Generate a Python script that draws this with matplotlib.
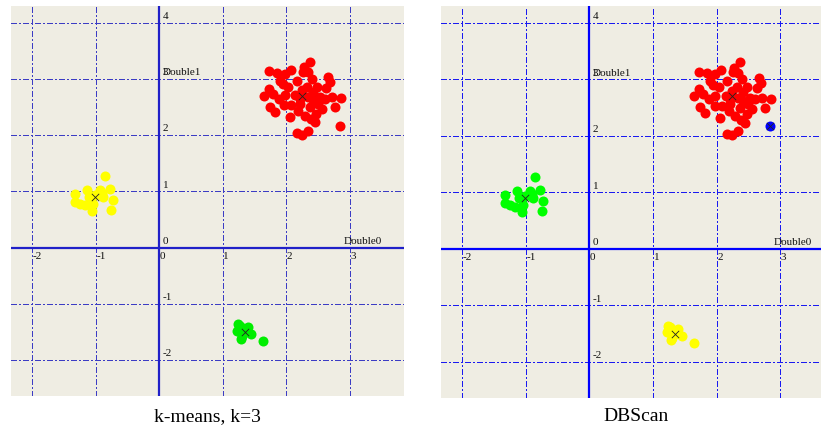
import matplotlib
matplotlib.use("Agg")
import matplotlib.pyplot as plt
import numpy as np

# upper-right cluster
top_x = [1.72, 1.85, 2.07, 2.27, 2.37, 2.34, 2.26, 1.90, 1.95, 1.72, 1.79, 1.98,
         2.32, 2.42, 2.53, 2.66, 2.69, 2.63, 2.71, 2.86, 2.76, 2.45, 2.29, 2.06,
         1.82, 1.74, 1.97, 2.08, 2.21, 2.19, 2.37, 2.42, 2.34, 2.14, 2.21, 2.16,
         2.24, 2.34, 2.24, 2.50, 2.56, 2.47, 2.39, 2.03, 2.17, 2.48, 2.61, 1.88,
         1.65, 2.40, 1.98]
top_y = [3.14, 3.11, 3.16, 3.21, 3.30, 3.12, 3.13, 2.97, 2.91, 2.83, 2.74, 2.71,
         2.86, 2.77, 2.68, 3.03, 2.94, 2.84, 2.68, 2.66, 2.50, 2.23, 2.35, 2.32,
         2.41, 2.51, 2.53, 2.53, 2.56, 2.44, 2.50, 2.62, 2.68, 2.71, 2.65, 2.04,
         2.01, 2.08, 2.80, 2.56, 2.47, 2.38, 2.29, 2.86, 2.97, 2.86, 2.65, 2.65,
         2.70, 3.00, 3.09]

# upper-left cluster
left_x = [-0.85, -1.32, -1.32, -1.14, -1.11, -1.17, -1.06, -1.01, -0.93, -0.88,
          -0.77, -0.72, -0.75, -1.25, -1.04, -0.90]
left_y = [1.27, 0.96, 0.81, 1.02, 0.90, 0.75, 0.66, 0.93, 1.02, 0.90,
          1.05, 0.84, 0.67, 0.78, 0.78, 0.97]

# lower cluster
low_x = [1.24, 1.22, 1.30, 1.40, 1.45, 1.35, 1.29, 1.64, 1.27]
low_y = [-1.36, -1.48, -1.57, -1.42, -1.54, -1.50, -1.62, -1.67, -1.39]

# the lone point right of the big cluster
odd_x = [2.84]
odd_y = [2.17]

x_ticks = [-2, -1, 0, 1, 2, 3]
y_ticks = [-2, -1, 0, 1, 2, 3, 4]
captions = ["k-means, k=3", "DBScan"]

SERIF = "Liberation Serif"
BG = "#efede3"

fig = plt.figure(figsize=(8.21, 4.35), dpi=100)


def panel(rect, xlim, ylim, groups, grid_col, axis_col, caption_x, caption):
    ax = fig.add_axes(rect)
    ax.set_facecolor(BG)
    ax.set_xlim(*xlim)
    ax.set_ylim(*ylim)
    for s in ax.spines.values():
        s.set_visible(False)
    ax.set_xticks([])
    ax.set_yticks([])

    dash = (0, (5, 2, 1.5, 2))
    for x in x_ticks:
        if x != 0:
            ax.axvline(x, color=grid_col, lw=0.75, ls=dash, zorder=1,
                       antialiased=False)
    for y in y_ticks:
        if y != 0:
            ax.axhline(y, color=grid_col, lw=0.75, ls=dash, zorder=1,
                       antialiased=False)
    ax.axvline(0, color=axis_col, lw=1.6, zorder=2)
    ax.axhline(0, color=axis_col, lw=1.6, zorder=2)

    for gx, gy, col in groups:
        ax.scatter(gx, gy, s=52, color=col, lw=0, zorder=3)
        ax.scatter(np.mean(gx), np.mean(gy), s=28, marker="x", color="#222222",
                   lw=0.6, zorder=4)

    kw = dict(fontsize=8, family=SERIF, color="#111111", zorder=5)
    for y in y_ticks:
        ax.annotate(str(y), (0, y), xytext=(2.5, 2), textcoords="offset points",
                    ha="left", va="bottom", **kw)
    for x in x_ticks:
        ax.annotate(str(x), (x, 0), xytext=(0.5, -2.5), textcoords="offset points",
                    ha="left", va="top", **kw)
    # the axis name sits on top of the "3" label, as the plotting tool draws it
    ax.annotate("Double1", (0, 3), xytext=(2.5, 2), textcoords="offset points",
                ha="left", va="bottom", **kw)
    ax.annotate("Double0", (2.9, 0), xytext=(0, 2), textcoords="offset points",
                ha="left", va="bottom", **kw)

    fig.text(caption_x, 1 - 417 / 435, caption, ha="center", va="center",
             fontsize=14, family=SERIF)
    return ax


all_top_x = top_x + odd_x
all_top_y = top_y + odd_y

# k-means: the lone point joins the big cluster
panel([11 / 821, 38 / 435, 393 / 821, 390 / 435], (-2.33, 3.85), (-2.64, 4.30),
      [(all_top_x, all_top_y, "#ff0000"),
       (left_x, left_y, "#ffff00"),
       (low_x, low_y, "#00ee00")],
      "#3c3cc4", "#2020c8", 207.5 / 821, captions[0])

# DBScan: the lone point is its own (noise) group
panel([441 / 821, 36 / 435, 380 / 821, 392 / 435], (-2.33, 3.64), (-2.64, 4.30),
      [(top_x, top_y, "#ff0000"),
       (left_x, left_y, "#00ff00"),
       (low_x, low_y, "#ffff00"),
       (odd_x, odd_y, "#0000ff")],
      "#1a1af0", "#0000ff", 636 / 821, captions[1])

fig.savefig("out.png", dpi=100, facecolor="white")
